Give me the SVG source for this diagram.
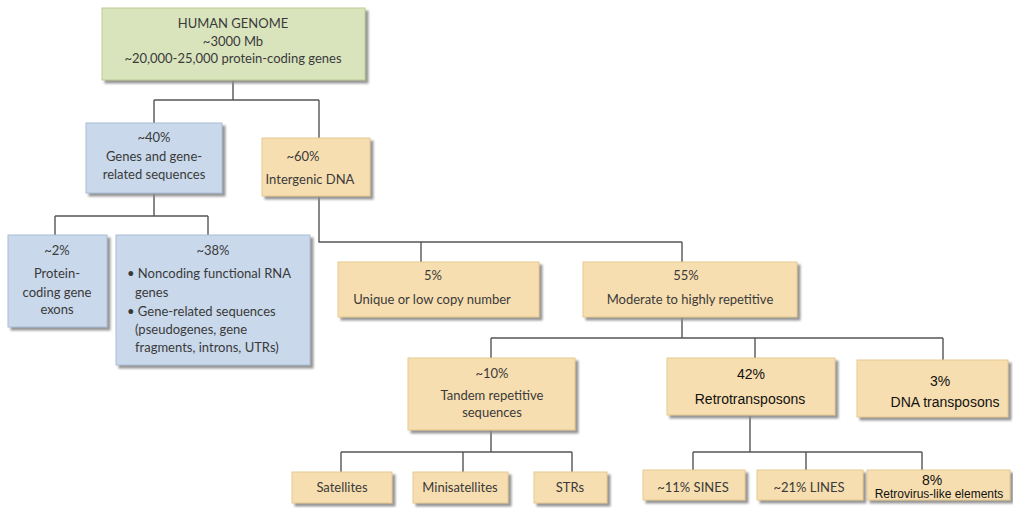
<svg xmlns="http://www.w3.org/2000/svg" width="1013" height="508" viewBox="0 0 1013 508">
<defs>
<filter id="sh" x="-10%" y="-10%" width="130%" height="140%">
<feDropShadow dx="3" dy="3" stdDeviation="0.8" flood-color="#8a8a8a" flood-opacity="0.9"/>
</filter>
<style>
.g{fill:#d9e4bd;stroke:#b9cc90;stroke-width:1;filter:url(#sh)}
.b{fill:#c9d8ea;stroke:#a9bdd8;stroke-width:1;filter:url(#sh)}
.o{fill:#f7deb0;stroke:#e6c98f;stroke-width:1;filter:url(#sh)}
.t{font-family:Lato,"Open Sans",sans-serif;font-size:13px;fill:#3a3a3a;text-anchor:middle}
.l{text-anchor:start}
.c{font-family:"Liberation Sans",Arial,sans-serif;font-size:14px;fill:#111;text-anchor:middle}
.s{font-size:12px}
.k{fill:none;stroke:#555;stroke-width:1.4}
</style>
</defs>
<rect width="1013" height="508" fill="#fff"/>
<g id="connectors" class="k">
<path d="M233,80V100M154,100H319M154,100V123M319,100V138"/>
<path d="M154,193V216M55,216H208M55,216V235M208,216V235"/>
<path d="M319,196V242H682M421,242V262M682,242V262"/>
<path d="M682,317V338M491,338H943M491,338V358M755,338V358M943,338V360"/>
<path d="M491,430V452M341,452H572M341,452V472M463,452V472M572,452V472"/>
<path d="M750,415V452M693,452H922M693,452V470M806,452V470M922,452V470"/>
</g>
<g id="genome">
<rect class="g" x="102" y="8" width="263" height="72"/>
<text class="t" x="233" y="28">HUMAN GENOME</text>
<text class="t" x="233" y="46">~3000 Mb</text>
<text class="t" x="233" y="63">~20,000-25,000 protein-coding genes</text>
</g>
<g id="genes">
<rect class="b" x="86" y="123" width="136" height="70"/>
<text class="t" x="154" y="142">~40%</text>
<text class="t" x="154" y="161">Genes and gene-</text>
<text class="t" x="154" y="179">related sequences</text>
</g>
<g id="intergenic">
<rect class="o" x="262" y="138" width="108" height="58"/>
<text class="t" x="303" y="161">~60%</text>
<text class="t" x="310" y="184">Intergenic DNA</text>
</g>
<g id="exons">
<rect class="b" x="8" y="235" width="99" height="92"/>
<text class="t" x="57" y="255">~2%</text>
<text class="t" x="57" y="278">Protein-</text>
<text class="t" x="57" y="297">coding gene</text>
<text class="t" x="57" y="314">exons</text>
</g>
<g id="noncoding">
<rect class="b" x="116" y="235" width="194" height="130"/>
<text class="t" x="213" y="255">~38%</text>
<text class="t l" x="127" y="278">• Noncoding functional RNA</text>
<text class="t l" x="135" y="297">genes</text>
<text class="t l" x="127" y="316">• Gene-related sequences</text>
<text class="t l" x="135" y="334">(pseudogenes, gene</text>
<text class="t l" x="135" y="352">fragments, introns, UTRs)</text>
</g>
<g id="unique">
<rect class="o" x="338" y="262" width="201" height="55"/>
<text class="t" x="433" y="280">5%</text>
<text class="t" x="432" y="304">Unique or low copy number</text>
</g>
<g id="repetitive">
<rect class="o" x="583" y="262" width="214" height="55"/>
<text class="t" x="686" y="280">55%</text>
<text class="t" x="690" y="304">Moderate to highly repetitive</text>
</g>
<g id="tandem">
<rect class="o" x="408" y="358" width="167" height="72"/>
<text class="t" x="492" y="378">~10%</text>
<text class="t" x="492" y="400">Tandem repetitive</text>
<text class="t" x="492" y="417">sequences</text>
</g>
<g id="retrotransposons">
<rect class="o" x="667" y="358" width="168" height="57"/>
<text class="c" x="751" y="379">42%</text>
<text class="c" x="750" y="404">Retrotransposons</text>
</g>
<g id="dnatransposons">
<rect class="o" x="857" y="360" width="151" height="57"/>
<text class="c" x="940" y="386">3%</text>
<text class="c" x="945" y="407">DNA transposons</text>
</g>
<g id="satellites">
<rect class="o" x="292" y="472" width="100" height="31"/>
<text class="t" x="342" y="492">Satellites</text>
</g>
<g id="minisatellites">
<rect class="o" x="413" y="472" width="95" height="31"/>
<text class="t" x="460" y="492">Minisatellites</text>
</g>
<g id="strs">
<rect class="o" x="534" y="472" width="73" height="31"/>
<text class="t" x="570" y="492">STRs</text>
</g>
<g id="sines">
<rect class="o" x="643" y="470" width="102" height="30"/>
<text class="t" x="693" y="492">~11% SINES</text>
</g>
<g id="lines">
<rect class="o" x="757" y="470" width="106" height="30"/>
<text class="t" x="809" y="492">~21% LINES</text>
</g>
<g id="retrovirus">
<rect class="o" x="867" y="470" width="143" height="30"/>
<text class="c" x="932" y="485">8%</text>
<text class="c s" x="939" y="498">Retrovirus-like elements</text>
</g>
</svg>
